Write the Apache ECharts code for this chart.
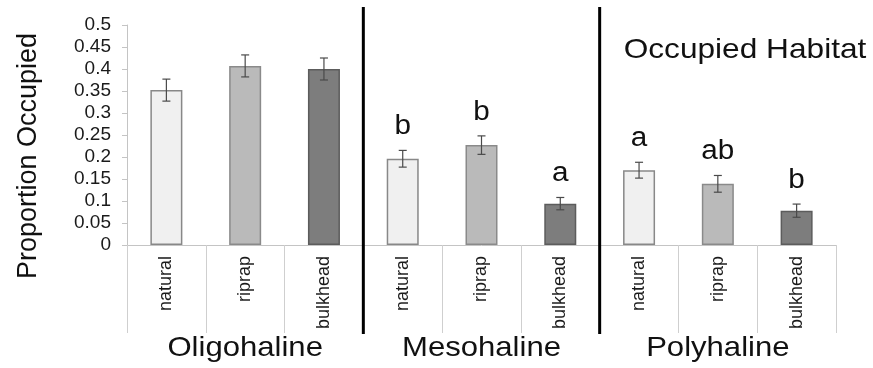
<!DOCTYPE html>
<html>
<head>
<meta charset="utf-8">
<script src="https://cdn.jsdelivr.net/npm/echarts@6/dist/echarts.min.js"></script>
<style>html,body{margin:0;padding:0;background:#fff;}#chart{width:873px;height:368px;}</style>
</head>
<body>
<div id="chart"></div>
<script>
const habitats = ['natural', 'riprap', 'bulkhead'];
const salinityZones = ['Oligohaline', 'Mesohaline', 'Polyhaline'];
const categories = ['natural', 'riprap', 'bulkhead', 'natural', 'riprap', 'bulkhead', 'natural', 'riprap', 'bulkhead'];
const proportion = [0.352, 0.407, 0.400, 0.196, 0.227, 0.094, 0.170, 0.139, 0.078];
const stdErr = [0.025, 0.025, 0.025, 0.019, 0.021, 0.014, 0.018, 0.019, 0.015];
const sigLetters = ['', '', '', 'b', 'b', 'a', 'a', 'ab', 'b'];
const yMin = 0, yMax = 0.5, yStep = 0.05;
const yTitle = 'Proportion Occupied';
const panelTitle = 'Occupied Habitat';

const FONT = '"Liberation Sans", Arial, sans-serif';
const fills = ['#f0f0f0', '#bababa', '#7d7d7d'];
const borders = ['#888888', '#8a8a8a', '#5c5c5c'];

const chart = echarts.init(document.getElementById('chart'), null, {renderer: 'canvas'});

function renderErr(params, api) {
  const i = api.value(0), v = api.value(1), e = api.value(2);
  const top = api.coord([i, v + e]);
  const bot = api.coord([i, v - e]);
  const cap = 4;
  const ls = {stroke: '#4a4a4a', lineWidth: 1.2};
  const children = [
    {type: 'line', shape: {x1: top[0], y1: top[1], x2: bot[0], y2: bot[1]}, style: ls},
    {type: 'line', shape: {x1: top[0] - cap, y1: top[1], x2: top[0] + cap, y2: top[1]}, style: ls},
    {type: 'line', shape: {x1: bot[0] - cap, y1: bot[1], x2: bot[0] + cap, y2: bot[1]}, style: ls}
  ];
  const letter = sigLetters[params.dataIndex];
  if (letter) {
    children.push({
      type: 'text', x: top[0], y: top[1] - 10, scaleX: 1.1,
      style: {text: letter, x: 0, y: 0, align: 'center', verticalAlign: 'bottom',
              fontSize: 27, fontFamily: FONT, fill: '#111'}
    });
  }
  return {type: 'group', children: children};
}

chart.setOption({
  animation: false,
  backgroundColor: '#fff',
  grid: {left: 127, right: 37, top: 25, bottom: 123, containLabel: false},
  xAxis: {
    type: 'category',
    data: categories,
    axisLine: {show: true, lineStyle: {color: '#c4c4c4', width: 1}},
    axisTick: {show: true, interval: 0, length: 88, lineStyle: {color: '#cfcfcf', width: 1}},
    axisLabel: {interval: 0, rotate: 90, fontSize: 18, margin: 11, color: '#1a1a1a', fontFamily: FONT},
    splitLine: {show: false}
  },
  yAxis: {
    type: 'value',
    min: yMin, max: yMax, interval: yStep,
    axisLine: {show: true, lineStyle: {color: '#c4c4c4', width: 1}},
    axisTick: {show: true, length: 5, lineStyle: {color: '#c4c4c4'}},
    axisLabel: {fontSize: 19, margin: 16, color: '#1a1a1a', fontFamily: FONT,
                formatter: v => String(+v.toFixed(2))},
    splitLine: {show: false}
  },
  series: [
    {
      type: 'bar',
      data: proportion.map((v, i) => ({
        value: v,
        itemStyle: {color: fills[i % 3], borderColor: borders[i % 3], borderWidth: 1.5}
      })),
      barWidth: 32,
      z: 2
    },
    {
      type: 'custom',
      renderItem: renderErr,
      data: proportion.map((v, i) => [i, v, stdErr[i]]),
      encode: {x: 0, y: 1},
      z: 3,
      clip: false
    }
  ]
});

function layoutGraphics() {
  const y0 = chart.convertToPixel({yAxisIndex: 0}, 0);
  const yTop = chart.convertToPixel({yAxisIndex: 0}, yMax);
  const cx = i => chart.convertToPixel({xAxisIndex: 0}, i);
  const gr = [];
  [2, 5].forEach(i => {
    const bx = (cx(i) + cx(i + 1)) / 2;
    gr.push({type: 'rect', shape: {x: bx - 1.5, y: yTop - 18, width: 3, height: (y0 + 89) - (yTop - 18)},
             style: {fill: '#000'}, z: 10});
  });
  salinityZones.forEach((name, g) => {
    gr.push({type: 'text', x: cx(g * 3 + 1), y: y0 + 103, scaleX: 1.11,
             style: {text: name, x: 0, y: 0, align: 'center', verticalAlign: 'middle',
                     fontSize: 28, fontFamily: FONT, fill: '#111'}, z: 10});
  });
  gr.push({type: 'text', x: 745, y: 50, scaleX: 1.13,
           style: {text: panelTitle, x: 0, y: 0, align: 'center', verticalAlign: 'middle',
                   fontSize: 28, fontFamily: FONT, fill: '#111'}, z: 10});
  gr.push({type: 'text', x: 29, y: 156, rotation: Math.PI / 2,
           style: {text: yTitle, x: 0, y: 0, align: 'center', verticalAlign: 'middle',
                   fontSize: 27, fontFamily: FONT, fill: '#111'}, z: 10});
  chart.setOption({graphic: gr});
}
layoutGraphics();
</script>
</body>
</html>
